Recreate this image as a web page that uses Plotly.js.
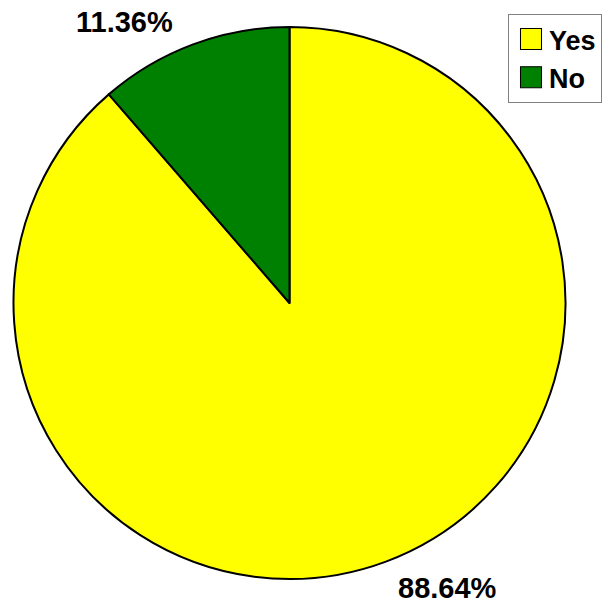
<!DOCTYPE html>
<html>
<head>
<meta charset="utf-8">
<script src="https://cdn.plot.ly/plotly-3.0.1.min.js"></script>
<style>html,body{margin:0;padding:0;background:#fff;}#chart{width:608px;height:606px;}</style>
</head>
<body>
<div id="chart"></div>
<script>
const categories = ["Yes", "No"];
const values = [88.64, 11.36];
const colors = ["#FFFF00", "#008000"];
const labelPos = [[447, 588], [125, 22]]; // pixel positions of percent labels

const W = 608, H = 606;
const total = values.reduce((a, b) => a + b, 0);
const font = {family: "Liberation Sans, Arial, sans-serif", color: "#000"};

const trace = {
  type: "pie",
  labels: categories.map(c => "<b>" + c + "</b>"),
  values: values,
  sort: false,
  direction: "clockwise",
  rotation: 0,
  marker: {colors: colors, line: {color: "#000", width: 2}},
  textinfo: "none",
  hoverinfo: "label+percent",
  domain: {x: [13.5 / W, 565.5 / W], y: [1 - 579 / H, 1 - 27 / H]}
};

const annotations = values.map((v, i) => ({
  text: "<b>" + (v / total * 100).toFixed(2) + "%</b>",
  x: labelPos[i][0] / W, y: 1 - labelPos[i][1] / H,
  xref: "paper", yref: "paper", xanchor: "center", yanchor: "middle",
  showarrow: false,
  font: Object.assign({size: 29}, font)
}));

const layout = {
  width: W, height: H,
  margin: {l: 0, r: 0, t: 0, b: 0},
  paper_bgcolor: "#fff",
  showlegend: true,
  legend: {
    x: 508 / W, y: 1 - 14 / H, xanchor: "left", yanchor: "top",
    bordercolor: "#808080", borderwidth: 1, bgcolor: "#fff",
    font: Object.assign({size: 27, weight: 700}, font),
    tracegroupgap: 0
  },
  annotations: annotations
};

Plotly.newPlot("chart", [trace], layout, {displayModeBar: false, staticPlot: true}).then(() => {
  document.querySelectorAll(".legendpoints path").forEach(p => {
    p.setAttribute("transform", "translate(22,0) scale(1.75)");
    p.style.strokeWidth = "0.6px";
  });
});
</script>
</body>
</html>
